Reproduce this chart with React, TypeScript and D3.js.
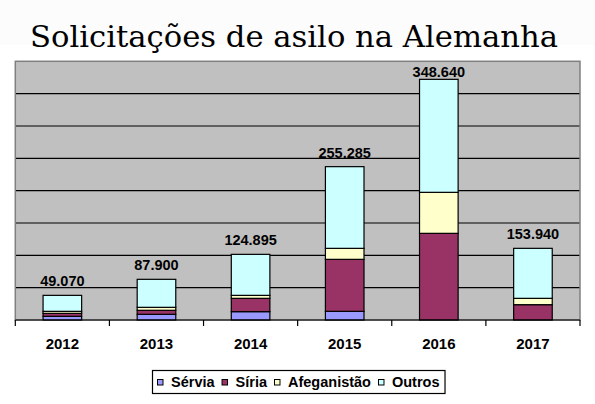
import React, { useEffect, useRef } from "react";
import * as d3 from "d3";

const years = ["2012", "2013", "2014", "2015", "2016", "2017"];
const serie = ["Sérvia", "Síria", "Afeganistão", "Outros"];
const servia = [5700, 8800, 12900, 13400, 0, 0];
const siria = [4600, 6200, 20600, 80400, 134000, 23700];
const afeganistao = [3100, 4600, 4600, 17000, 63400, 9800];
const outros = [24700, 43300, 63400, 126300, 174700, 77300];
const totalLabels = ["49.070", "87.900", "124.895", "255.285", "348.640", "153.940"];
const yTicks = [0, 50000, 100000, 150000, 200000, 250000, 300000, 350000, 400000];
const colors = ["#9999FF", "#993366", "#FFFFCC", "#CCFFFF"];

const W = 595;
const H = 404;
const SANS = "'Liberation Sans', Arial, sans-serif";

export default function App() {
  const ref = useRef<SVGSVGElement | null>(null);

  useEffect(() => {
    const svg = d3.select(ref.current);
    svg.selectAll("*").remove();

    const left = 15.3, right = 580, top = 61.3, bottom = 320;

    svg.append("rect").attr("x", 0).attr("y", 0).attr("width", W).attr("height", H).attr("fill", "#ffffff");
    svg.append("rect").attr("x", 0).attr("y", 0).attr("width", W).attr("height", 45).attr("fill", "#fcfcfc");

    // title
    svg.append("text")
      .attr("x", 30).attr("y", 47)
      .attr("font-family", "'DejaVu Serif', serif")
      .attr("font-size", 30)
      .attr("textLength", 528)
      .attr("lengthAdjust", "spacingAndGlyphs")
      .attr("fill", "#000")
      .text("Solicitações de asilo na Alemanha");

    const x = d3.scaleBand<string>().domain(years).range([left, right]).paddingInner(0).paddingOuter(0);
    const y = d3.scaleLinear().domain([0, 400000]).range([bottom, top]);

    // plot background
    svg.append("rect")
      .attr("x", left).attr("y", top)
      .attr("width", right - left).attr("height", bottom - top)
      .attr("fill", "#C0C0C0");

    // gridlines
    svg.append("g").selectAll("line")
      .data(yTicks.slice(1, -1))
      .join("line")
      .attr("x1", left).attr("x2", right)
      .attr("y1", (d) => y(d)).attr("y2", (d) => y(d))
      .attr("stroke", "#000").attr("stroke-width", 1.2);

    // frame
    svg.append("rect")
      .attr("x", left).attr("y", top)
      .attr("width", right - left).attr("height", bottom - top)
      .attr("fill", "none").attr("stroke", "#808080").attr("stroke-width", 1.5);

    // stacked bars
    const rows = years.map((yr, i) => ({
      year: yr,
      "Sérvia": servia[i],
      "Síria": siria[i],
      "Afeganistão": afeganistao[i],
      "Outros": outros[i],
    }));
    const stack = d3.stack<any>().keys(serie)(rows);
    const bw = x.bandwidth() * 0.41;

    stack.forEach((layer, si) => {
      svg.append("g").selectAll("rect")
        .data(layer.filter((d) => d[1] - d[0] > 0))
        .join("rect")
        .attr("x", (d) => (x(d.data.year) as number) + (x.bandwidth() - bw) / 2)
        .attr("y", (d) => y(d[1]))
        .attr("width", bw)
        .attr("height", (d) => y(d[0]) - y(d[1]))
        .attr("fill", colors[si])
        .attr("stroke", "#000")
        .attr("stroke-width", 1.2);
    });

    // total labels
    const topLayer = stack[stack.length - 1];
    svg.append("g").selectAll("text")
      .data(topLayer)
      .join("text")
      .attr("x", (d) => (x(d.data.year) as number) + x.bandwidth() / 2)
      .attr("y", (d) => Math.max(y(d[1]) - 9, top + 15.5))
      .attr("text-anchor", "middle")
      .attr("font-family", SANS)
      .attr("font-weight", "bold")
      .attr("font-size", 14.5)
      .attr("fill", "#000")
      .text((d, i) => totalLabels[i]);

    // x axis
    svg.append("line")
      .attr("x1", left).attr("x2", right)
      .attr("y1", bottom).attr("y2", bottom)
      .attr("stroke", "#000").attr("stroke-width", 1.2);
    const boundaries = years.map((yr) => x(yr) as number).concat([right]);
    svg.append("g").selectAll("line")
      .data(boundaries)
      .join("line")
      .attr("x1", (d) => d).attr("x2", (d) => d)
      .attr("y1", bottom).attr("y2", bottom + 6)
      .attr("stroke", "#000").attr("stroke-width", 1.2);
    svg.append("g").selectAll("text")
      .data(years)
      .join("text")
      .attr("x", (d) => (x(d) as number) + x.bandwidth() / 2)
      .attr("y", 349)
      .attr("text-anchor", "middle")
      .attr("font-family", SANS)
      .attr("font-weight", "bold")
      .attr("font-size", 15)
      .attr("fill", "#000")
      .text((d) => d);

    // legend
    const lg = svg.append("g");
    const box = lg.append("rect")
      .attr("y", 370.5).attr("height", 23)
      .attr("fill", "#fff").attr("stroke", "#000").attr("stroke-width", 1.2);
    let cx = 157.5;
    serie.forEach((name, i) => {
      lg.append("rect")
        .attr("x", cx).attr("y", 379.5)
        .attr("width", 5.5).attr("height", 5.5)
        .attr("fill", colors[i]).attr("stroke", "#000").attr("stroke-width", 1);
      cx += 13.5;
      const t = lg.append("text")
        .attr("x", cx).attr("y", 386.5)
        .attr("font-family", SANS)
        .attr("font-weight", "bold")
        .attr("font-size", 14.5)
        .attr("fill", "#000")
        .text(name);
      const w = (t.node() as SVGTextElement).getComputedTextLength();
      cx += w + 7.5;
    });
    box.attr("x", 152.5).attr("width", cx - 152.5 - 2);
  }, []);

  return (
    <svg
      ref={ref}
      width={W}
      height={H}
      style={{ position: "absolute", left: 0, top: 0, display: "block" }}
    />
  );
}
